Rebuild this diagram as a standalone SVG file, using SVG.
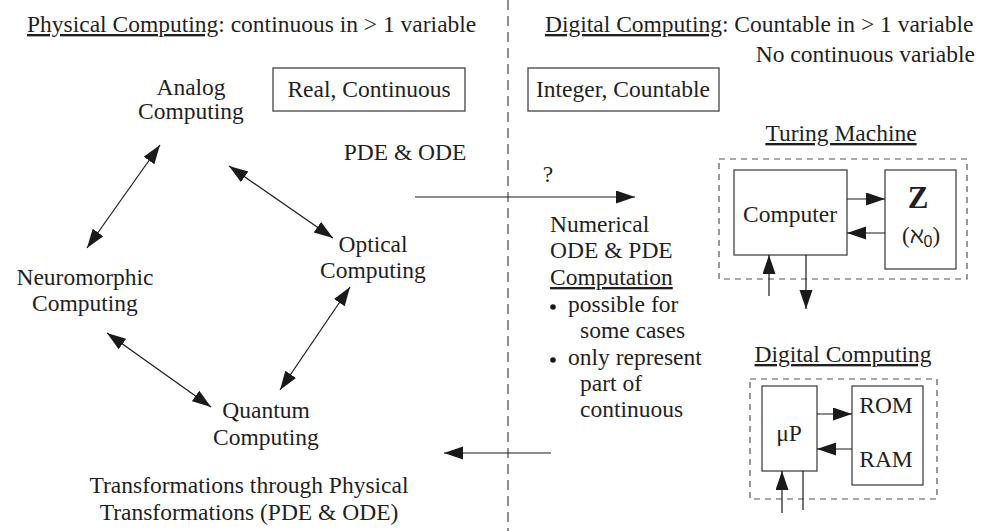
<svg xmlns="http://www.w3.org/2000/svg" width="983" height="531" viewBox="0 0 983 531">
<defs>
<style>
text{font-size:23.5px;fill:#1f1f1f}
.c{text-anchor:middle}
.r{text-anchor:end}
.u{text-decoration:underline}
.box{fill:none;stroke:#444;stroke-width:1.3}
.dbox{fill:none;stroke:#555;stroke-width:1.2;stroke-dasharray:6,5}
.ln{fill:none;stroke:#1a1a1a;stroke-width:1.2}
.dv{fill:none;stroke:#333;stroke-width:1.1;stroke-dasharray:10,6}
</style>
<marker id="ah" markerUnits="userSpaceOnUse" markerWidth="22" markerHeight="14" refX="19" refY="6.5" orient="auto-start-reverse" viewBox="0 0 22 14">
<path d="M0,0 L19,6.5 L0,13 z" fill="#1a1a1a"/>
</marker>
</defs>
<g font-family="'Liberation Serif', 'Times New Roman', 'DejaVu Serif', serif">
<line class="dv" x1="508" y1="0" x2="508" y2="531"/>

<g id="titles">
<text x="27" y="32"><tspan class="u">Physical Computing</tspan>: continuous in &gt; 1 variable</text>
<text x="545" y="32"><tspan class="u">Digital Computing</tspan>: Countable in &gt; 1 variable</text>
<text class="r" x="975" y="62">No continuous variable</text>
</g>

<g id="real">
<rect class="box" x="273" y="68" width="192" height="43"/>
<text class="c" x="369" y="97">Real, Continuous</text>
</g>
<g id="integer">
<rect class="box" x="528" y="68" width="191" height="43"/>
<text class="c" x="623" y="97">Integer, Countable</text>
</g>

<g id="analog"><text class="c" x="191" y="95">Analog</text><text class="c" x="191" y="119">Computing</text></g>
<g id="optical"><text class="c" x="373" y="252">Optical</text><text class="c" x="373" y="278">Computing</text></g>
<g id="neuromorphic"><text class="c" x="85" y="285">Neuromorphic</text><text class="c" x="85" y="311">Computing</text></g>
<g id="quantum"><text class="c" x="266" y="418">Quantum</text><text class="c" x="266" y="445">Computing</text></g>

<g id="pde"><text class="c" x="405" y="160">PDE &amp; ODE</text></g>
<g id="question"><text class="c" x="548" y="182">?</text></g>

<g id="numerical">
<text x="550" y="232">Numerical</text>
<text x="550" y="258">ODE &amp; PDE</text>
<text x="550" y="285" class="u">Computation</text>
<circle cx="553" cy="307" r="2.8" fill="#1a1a1a"/>
<text x="568" y="312">possible for</text>
<text x="580" y="338">some cases</text>
<circle cx="553" cy="360" r="2.8" fill="#1a1a1a"/>
<text x="568" y="365">only represent</text>
<text x="580" y="391">part of</text>
<text x="580" y="417">continuous</text>
</g>

<g id="transform">
<text class="c" x="249" y="493">Transformations through Physical</text>
<text class="c" x="249" y="520">Transformations (PDE &amp; ODE)</text>
</g>

<g id="turing">
<text class="c u" x="841" y="141">Turing Machine</text>
<rect class="dbox" x="719" y="159" width="248" height="120"/>
<g id="computer">
<rect class="box" x="734" y="170" width="113" height="85"/>
<text class="c" x="790" y="222">Computer</text>
</g>
<g id="zset">
<rect class="box" x="885" y="170" width="71" height="99"/>
<text class="c" x="918" y="208" font-weight="bold" style="font-size:31px">Z</text>
<text class="c" x="921" y="243" style="font-size:23px">(ℵ<tspan font-family="'Liberation Sans', sans-serif" style="font-size:16px" dy="4">0</tspan><tspan dy="-4">)</tspan></text>
</g>
</g>

<g id="digital">
<text class="c u" x="843" y="362">Digital Computing</text>
<rect class="dbox" x="750" y="379" width="187" height="120"/>
<g id="up">
<rect class="box" x="762" y="386" width="55" height="85"/>
<text class="c" x="789" y="441">μP</text>
</g>
<g id="mem">
<rect class="box" x="852" y="386" width="71" height="99"/>
<text class="c" x="886" y="413">ROM</text>
<text class="c" x="886" y="467">RAM</text>
</g>
</g>

<g id="connectors">
<line class="ln" x1="160" y1="145" x2="87" y2="248" marker-start="url(#ah)" marker-end="url(#ah)"/>
<line class="ln" x1="229" y1="166" x2="333" y2="238" marker-start="url(#ah)" marker-end="url(#ah)"/>
<line class="ln" x1="350" y1="287" x2="280" y2="390" marker-start="url(#ah)" marker-end="url(#ah)"/>
<line class="ln" x1="107" y1="333" x2="211" y2="407" marker-start="url(#ah)" marker-end="url(#ah)"/>
<line class="ln" x1="415" y1="197" x2="635" y2="197" marker-end="url(#ah)"/>
<line class="ln" x1="551" y1="453" x2="444" y2="453" marker-end="url(#ah)"/>
<line class="ln" x1="847" y1="199" x2="885" y2="199" marker-end="url(#ah)"/>
<line class="ln" x1="885" y1="233" x2="847" y2="233" marker-end="url(#ah)"/>
<line class="ln" x1="769" y1="296" x2="769" y2="255" marker-end="url(#ah)"/>
<line class="ln" x1="806" y1="255" x2="806" y2="309" marker-end="url(#ah)"/>
<line class="ln" x1="817" y1="414" x2="852" y2="414" marker-end="url(#ah)"/>
<line class="ln" x1="852" y1="449" x2="817" y2="449" marker-end="url(#ah)"/>
<line class="ln" x1="782" y1="513" x2="782" y2="471" marker-end="url(#ah)"/>
<line class="ln" x1="803" y1="471" x2="803" y2="510"/>
</g>
</g>
</svg>
